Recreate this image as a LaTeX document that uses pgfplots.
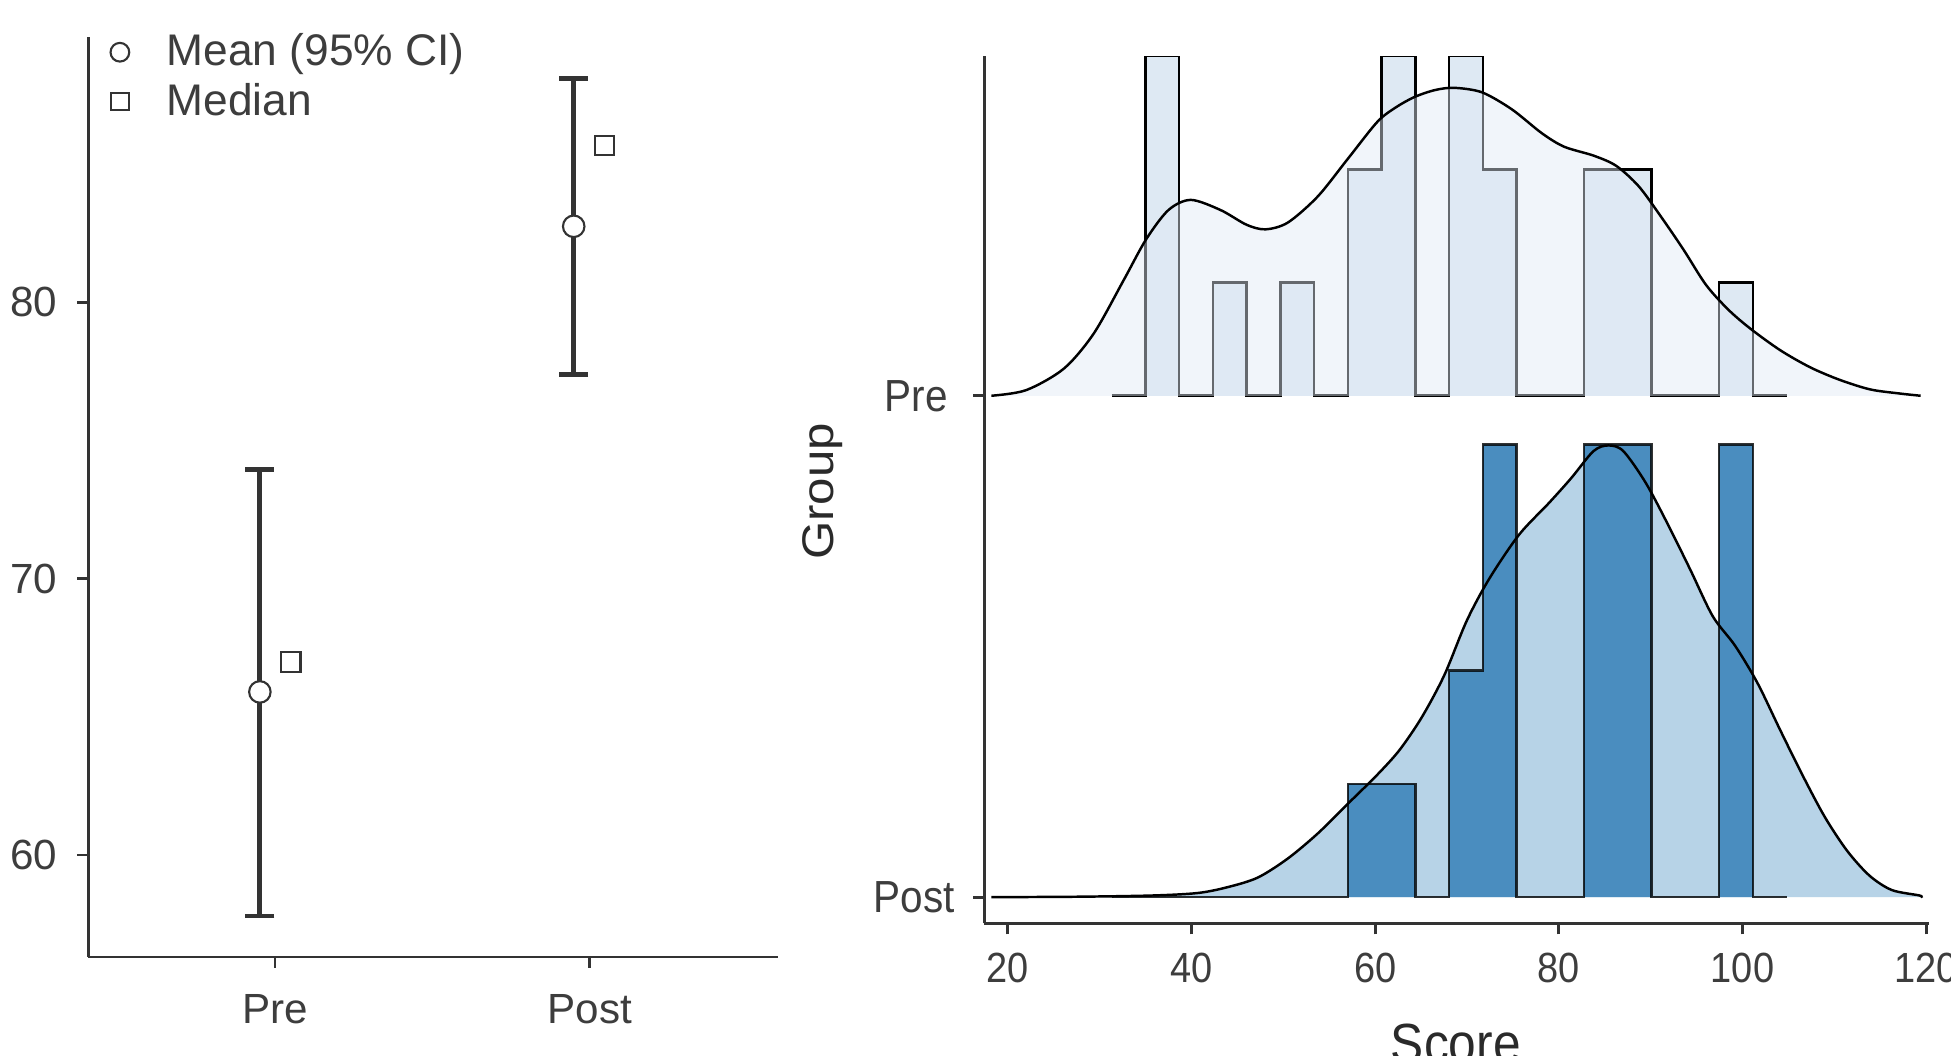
\documentclass[border=0pt]{standalone}
\usepackage{fontspec}
\setmainfont{Liberation Sans}
\newfontfamily\narrowfont[FakeStretch=0.9]{Liberation Sans}
\usepackage{pgfplots}
\pgfplotsset{compat=1.18}
\usepackage{pgfplotstable}

\definecolor{axgrey}{HTML}{333333}
\definecolor{txtgrey}{HTML}{3D3D3D}
\definecolor{txttitle}{HTML}{2A2A2A}
\definecolor{prebar}{HTML}{DEE9F3}
\definecolor{predens}{HTML}{E2EBF6}
\definecolor{postdens}{HTML}{B7D3E7}
\definecolor{postbar}{HTML}{4A8DBF}

% mean and 95% CI
\pgfplotstableread{
x     y      ep    em
0.952 65.90  8.06  8.11
1.949 82.75  5.36  5.36
}\meantab
% medians
\pgfplotstableread{
x     y
1.05  66.98
2.047 85.68
}\medtab

% histogram: left bin edge, count (last row = right edge)
\pgfplotstableread{
x       c
31.30   0
34.975  3
38.65   0
42.325  1
46.00   0
49.675  1
53.35   0
57.025  2
60.70   3
64.375  0
68.05   3
71.725  2
75.40   0
79.075  0
82.75   2
86.425  2
90.10   0
93.775  0
97.45   1
101.125 0
104.80  0
}\prehist
\pgfplotstableread{
x       c
31.30   0
34.975  0
38.65   0
42.325  0
46.00   0
49.675  0
53.35   0
57.025  1
60.70   1
64.375  0
68.05   2
71.725  4
75.40   0
79.075  0
82.75   4
86.425  4
90.10   0
93.775  0
97.45   4
101.125 0
104.80  0
}\posthist

% densities (in count units)
\pgfplotstableread{
x      d
18.2   0
22.0   0.05
26.1   0.24
29.35  0.55
32.6   1.02
35.04  1.38
37.48  1.64
39.92  1.73
43.17  1.64
46.0   1.51
48.05  1.47
50.49  1.53
53.74  1.76
56.99  2.09
60.24  2.42
62.3   2.55
64.31  2.64
66.5   2.70
68.6   2.72
71.63  2.68
74.88  2.53
78.13  2.32
80.57  2.20
83.82  2.12
86.26  2.03
88.7   1.85
91.14  1.58
93.58  1.29
96.02  0.98
98.46  0.76
100.9  0.59
104.15 0.40
107.4  0.25
110.6  0.14
113.9  0.056
117.1  0.02
119.4  0
}\predens
\pgfplotstableread{
x      d
18.2   0
27.72  0.004
35.84  0.015
40.71  0.037
43.96  0.089
47.21  0.173
50.46  0.34
53.71  0.56
56.96  0.82
60.21  1.08
62.65  1.30
65.08  1.59
67.52  1.96
69.96  2.44
72.4   2.81
75.65  3.20
78.9   3.48
81.33  3.70
83.77  3.94
85.39  3.99
87.02  3.94
89.46  3.66
91.89  3.29
94.33  2.89
96.77  2.48
99.2   2.22
101.64 1.89
104.08 1.48
106.52 1.08
108.95 0.71
111.39 0.41
113.83 0.19
116.26 0.063
119.27 0.015
119.4  0
}\postdens

\begin{document}
\begin{tikzpicture}
\path[use as bounding box, fill=white] (0,0) rectangle (19.51cm,10.55cm);

% ---------------- left panel ----------------
\begin{axis}[
  at={(0.883cm,0.981cm)}, anchor=south west,
  scale only axis, width=6.894cm, height=9.196cm,
  xmin=0.407, xmax=2.597, ymin=56.31, ymax=89.59,
  axis lines=left,
  axis line style={-, line width=0.8pt, draw=axgrey},
  tick align=outside, major tick length=0.11cm,
  tick style={line width=0.8pt, draw=axgrey},
  xtick={1,2}, xticklabels={Pre,Post},
  ytick={60,70,80},
  tick label style={font=\fontsize{12}{14}\selectfont, text=txtgrey},
  xticklabel style={yshift=-0.14cm},
  yticklabel style={xshift=-0.075cm},
  /pgf/number format/assume math mode=true,
  legend style={at={(0,1)}, anchor=north west, xshift=0.11cm, yshift=0.15cm,
    draw=none, fill=none, font=\fontsize{12.6}{15}\selectfont, text=txtgrey,
    nodes={inner sep=1pt}, column sep=0.34cm, row sep=0.05cm},
  legend cell align=left,
]
\addlegendimage{only marks, mark=*, mark size=2.66pt, mark options={fill=white, draw=axgrey, line width=0.6pt}}
\addlegendentry{Mean (95\% CI)}
\addlegendimage{only marks, mark=square*, mark size=2.5pt, mark options={fill=white, draw=axgrey, line width=0.6pt}}
\addlegendentry{Median}

\addplot[forget plot, only marks, mark=*, mark size=3.06pt,
  mark options={fill=white, draw=axgrey, line width=0.6pt},
  error bars/.cd, y dir=both, y explicit,
  error bar style={line width=1.4pt, draw=axgrey},
  error mark options={rotate=90, line width=1.4pt, draw=axgrey, mark size=4.1pt}]
  table[x=x, y=y, y error plus=ep, y error minus=em] {\meantab};
\addplot[forget plot, only marks, mark=square*, mark size=2.77pt,
  mark options={fill=white, draw=axgrey, line width=0.6pt}]
  table[x=x, y=y] {\medtab};
\end{axis}

% ---------------- right panel ----------------
\begin{axis}[
  at={(9.842cm,1.317cm)}, anchor=south west,
  scale only axis, width=9.447cm, height=8.673cm,
  xmin=17.42, xmax=120.3, ymin=-0.231, ymax=7.43,
  axis lines=left,
  axis line style={-, line width=0.8pt, draw=axgrey},
  tick align=outside, major tick length=0.11cm,
  tick style={line width=0.8pt, draw=axgrey},
  xtick={20,40,60,80,100,120},
  ytick={0,4.429}, yticklabels={Post,{Pre\rule{0.07cm}{0pt}}},
  xticklabel style={font=\narrowfont\fontsize{12}{14}\selectfont, text=txtgrey, yshift=-0.06cm},
  yticklabel style={font=\narrowfont\fontsize{12.8}{15}\selectfont, text=txtgrey, xshift=-0.06cm},
  /pgf/number format/assume math mode=true,
]
% Post
\addplot[draw=none, fill=postdens, smooth] table[x=x, y=d] {\postdens} -- cycle;
\addplot[const plot, fill=postbar, draw=none]
  table[x=x, y=c] {\posthist} -- cycle;
\addplot[const plot, draw=black, draw opacity=0.8, line width=0.75pt]
  table[x=x, y=c] {\posthist};
\addplot[black, line width=0.7pt, smooth] table[x=x, y=d] {\postdens};
% Pre
\addplot[const plot, fill=prebar, draw=none]
  table[x=x, y expr=\thisrow{c}+4.429] {\prehist} -- cycle;
\addplot[const plot, draw=black, line width=0.75pt]
  table[x=x, y expr=\thisrow{c}+4.429] {\prehist};
\addplot[draw=none, fill=predens, fill opacity=0.45, smooth]
  table[x=x, y expr=\thisrow{d}+4.429] {\predens} -- cycle;
\addplot[black, line width=0.7pt, smooth]
  table[x=x, y expr=\thisrow{d}+4.429] {\predens};
\end{axis}

\node[rotate=90, inner sep=0pt, font=\fontsize{14}{16}\selectfont, text=txttitle]
  at (8.225cm,5.635cm) {\scalebox{1}[0.9]{Group}};
\node[anchor=north, inner sep=0pt, font=\narrowfont\fontsize{15.7}{18}\selectfont, text=txttitle]
  at (14.558cm,0.322cm) {Score};
\end{tikzpicture}
\end{document}
